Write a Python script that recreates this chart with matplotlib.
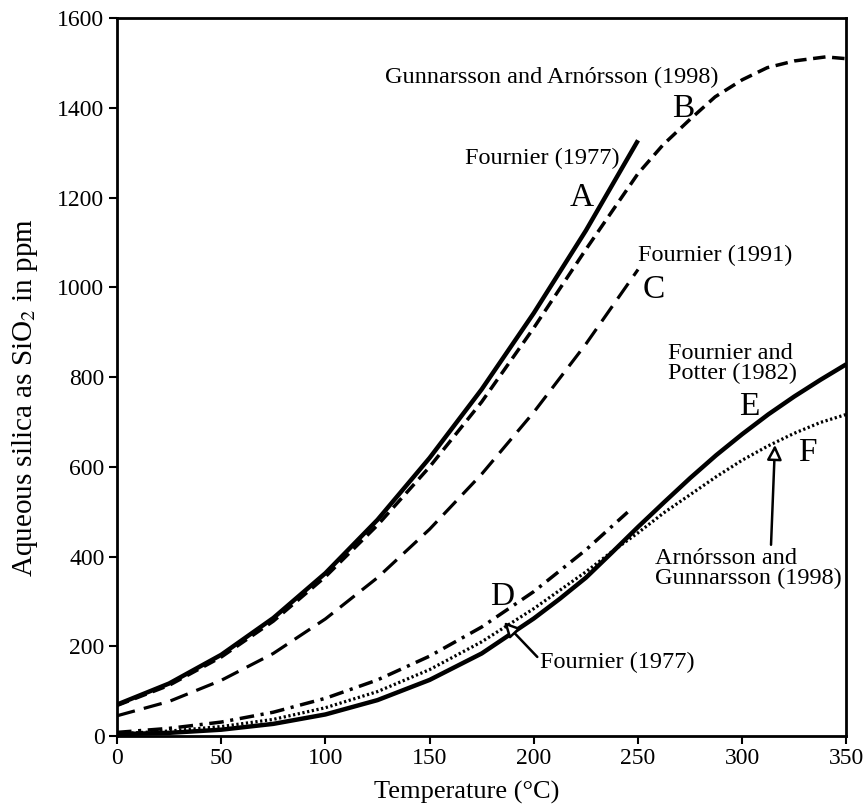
import matplotlib
matplotlib.use("Agg")
import matplotlib.pyplot as plt

plt.rcParams['font.family'] = ['Liberation Serif', 'DejaVu Serif']
plt.rcParams['mathtext.fontset'] = 'stix'

# silica solubility curves, temperature in degC and SiO2 in ppm
t_a = [0, 25, 50, 75, 100, 125, 150, 175, 200, 225, 250]
sio2_a = [70, 117, 181, 263, 363, 482, 620, 773, 943, 1127, 1328]

t_b = [0, 25, 50, 75, 100, 125, 150, 175, 200, 225, 250, 262, 275, 287, 300, 312, 325, 340, 350]
sio2_b = [68, 113, 176, 256, 355, 470, 600, 745, 910, 1085, 1254, 1318, 1375, 1425, 1463,
          1490, 1505, 1514, 1510]

t_c = [0, 25, 50, 75, 100, 125, 150, 175, 200, 225, 250]
sio2_c = [45, 77, 124, 184, 261, 353, 461, 584, 722, 874, 1040]

t_d = [0, 25, 50, 75, 100, 125, 150, 175, 200, 225, 245]
sio2_d = [8, 17, 31, 53, 84, 125, 178, 243, 322, 415, 499]

t_e = [0, 25, 50, 75, 100, 125, 150, 175, 200, 212.5, 225, 237.5, 250, 262.5, 275,
       287.5, 300, 312.5, 325, 337.5, 350]
sio2_e = [4, 7, 14, 27, 48, 80, 125, 184, 262, 306, 353, 409, 466, 521, 575,
          626, 673, 717, 757, 794, 829]

t_f = [0, 25, 50, 75, 100, 125, 150, 175, 200, 212.5, 225, 237.5, 250, 262.5, 275,
       287.5, 300, 312.5, 325, 337.5, 350]
sio2_f = [5, 11, 21, 37, 63, 99, 148, 210, 284, 325, 366, 411, 453, 498, 538,
          578, 615, 647, 675, 699, 717]

fig = plt.figure(figsize=(8.64, 8.11), dpi=100)
ax = fig.add_axes([0.1354, 0.0925, 0.9797 - 0.1354, 0.9774 - 0.0925])

ax.plot(t_a, sio2_a, color='black', lw=3.2, solid_capstyle='butt')
ax.plot(t_b, sio2_b, color='black', lw=2.5, dashes=(3.6, 1.9))
ax.plot(t_c, sio2_c, color='black', lw=2.3, dashes=(5.8, 2.9))
ax.plot(t_d, sio2_d, color='black', lw=2.5, dashes=(4.2, 1.9, 0.9, 1.9))
ax.plot(t_e, sio2_e, color='black', lw=3.2, solid_capstyle='butt')
ax.plot(t_f, sio2_f, color='black', lw=2.3, dashes=(0.7, 0.8))

ax.set_xlim(0, 350)
ax.set_ylim(0, 1600)
ax.set_xticks(range(0, 351, 50))
ax.set_yticks(range(0, 1601, 200))
ax.tick_params(direction='out', length=6, width=1.5, labelsize=17, pad=3)
for s in ax.spines.values():
    s.set_linewidth(2.0)

ax.set_xlabel('Temperature (°C)', fontsize=19, labelpad=4)
ax.xaxis.set_label_coords(0.48, -0.062)
ax.set_ylabel('Aqueous silica as SiO$_2$ in ppm', fontsize=21, labelpad=4)
ax.yaxis.set_label_coords(-0.106, 0.472)

txt = 17.5
big = 24
ax.text(128.6, 1469, 'Gunnarsson and Arnórsson (1998)', fontsize=txt, va='center', ha='left')
ax.text(271.6, 1398, 'B', fontsize=big, va='center', ha='center')
ax.text(241.4, 1288, 'Fournier (1977)', fontsize=txt, va='center', ha='right')
ax.text(223.1, 1201, 'A', fontsize=big, va='center', ha='center')
ax.text(250.0, 1072, 'Fournier (1991)', fontsize=txt, va='center', ha='left')
ax.text(257.4, 994, 'C', fontsize=big, va='center', ha='center')
ax.text(264.4, 831, 'Fournier and\nPotter (1982)', fontsize=txt, va='center', ha='left',
        linespacing=0.95)
ax.text(303.3, 733, 'E', fontsize=big, va='center', ha='center')
ax.text(331.0, 631, 'F', fontsize=big, va='center', ha='center')
ax.text(184.7, 310, 'D', fontsize=big, va='center', ha='center')

arrow = dict(arrowstyle='-|>', fc='white', ec='black', lw=1.8, mutation_scale=22,
             shrinkA=0, shrinkB=0)
ax.annotate('Arnórsson and\nGunnarsson (1998)', xy=(315.7, 649), xytext=(258.2, 374),
            fontsize=txt, va='center', ha='left', linespacing=0.95,
            arrowprops=dict(arrow, relpos=(0.62, 1.0)))
ax.annotate('Fournier (1977)', xy=(185.7, 254), xytext=(203.0, 165),
            fontsize=txt, va='center', ha='left',
            arrowprops=dict(arrow, relpos=(0.0, 0.6)))

fig.savefig('out.png', dpi=100)
